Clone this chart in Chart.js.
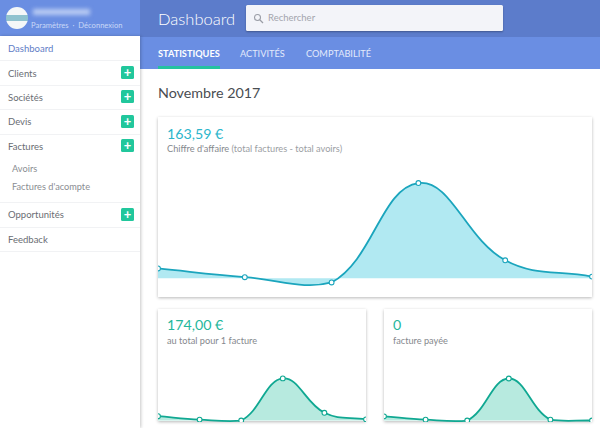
<!DOCTYPE html>
<html lang="fr">
<head>
<meta charset="utf-8">
<title>Dashboard</title>
<script src="https://cdn.jsdelivr.net/npm/chart.js@4/dist/chart.umd.min.js"></script>
<style>
* { box-sizing: border-box; }
html, body { margin: 0; width: 600px; height: 428px; overflow: hidden; background: #fff; font-family: Lato, sans-serif; }
.abs { position: absolute; white-space: nowrap; }
#topbar { position: absolute; left: 140px; top: 0; width: 460px; height: 37px; background: #5c7ccb; }
#tabs { position: absolute; left: 140px; top: 37px; width: 460px; height: 32px; background: #6a8ee3; }
#sidehead { position: absolute; left: 0; top: 0; width: 140px; height: 36px; background: #6a8ee2; }
#sidebar { position: absolute; left: 0; top: 36px; width: 140px; height: 392px; background: #fff; box-shadow: 1px 0 3px rgba(0,0,0,.22); }
#avatar { position: absolute; left: 6px; top: 7px; width: 22px; height: 22px; border-radius: 50%; background: linear-gradient(#f4f7f8 0 35%, #8fc2cf 35% 65%, #f4f7f8 65%); }
#blurname { position: absolute; left: 33px; top: 9px; width: 57px; height: 6px; background: #b9ccf3; filter: blur(2px); }
.rule { position: absolute; left: 0; width: 140px; height: 1px; background: #f1f2f4; }
.nav { font-size: 9.5px; color: #6a6d73; transform: translateY(-50%); }
.sub { font-size: 9.2px; color: #8a8d92; transform: translateY(-50%); }
.plus { position: absolute; left: 121px; width: 13px; height: 13px; border-radius: 1.5px; background: #21c79c; color: #fff; font-size: 13px; line-height: 12px; text-align: center; font-weight: 700; }
#search { position: absolute; left: 246px; top: 5px; width: 257px; height: 26px; background: #f3f4f9; border-radius: 1.5px; box-shadow: 0 1px 2px rgba(0,0,0,.3); }
.tab { font-size: 9.2px; font-weight: 700; transform: translateY(-50%); }
.card { position: absolute; background: #fff; box-shadow: 0 1px 3px rgba(0,0,0,.28); }
.big { font-size: 14.2px; font-weight: 400; }
.small { font-size: 9.2px; color: #9b9ea3; }
canvas { position: absolute; }
</style>
</head>
<body>
<div id="topbar"></div>
<div id="tabs"></div>
<div id="sidehead"></div>
<div id="avatar"></div>
<div id="blurname"></div>
<div class="abs" style="left:31px;top:20px;font-size:7.6px;color:#c9d8f7">Paramètres &nbsp;·&nbsp; Déconnexion</div>

<div id="sidebar"></div>
<div class="rule" style="top:60px"></div>
<div class="rule" style="top:85px"></div>
<div class="rule" style="top:109px"></div>
<div class="rule" style="top:134px"></div>
<div class="rule" style="top:202px"></div>
<div class="rule" style="top:227px"></div>
<div class="rule" style="top:251px"></div>
<div class="abs nav" style="left:8px;top:48px;color:#5f7dc6">Dashboard</div>
<div class="abs nav" style="left:8px;top:73px">Clients</div>
<div class="abs nav" style="left:8px;top:97px">Sociétés</div>
<div class="abs nav" style="left:8px;top:121px">Devis</div>
<div class="abs nav" style="left:8px;top:146px">Factures</div>
<div class="abs sub" style="left:12px;top:168px">Avoirs</div>
<div class="abs sub" style="left:12px;top:186px">Factures d'acompte</div>
<div class="abs nav" style="left:8px;top:214px">Opportunités</div>
<div class="abs nav" style="left:8px;top:239px">Feedback</div>
<div class="plus" style="top:66px">+</div>
<div class="plus" style="top:90px">+</div>
<div class="plus" style="top:115px">+</div>
<div class="plus" style="top:139px">+</div>
<div class="plus" style="top:208px">+</div>

<div class="abs" style="left:158px;top:9px;font-size:16.5px;font-weight:300;color:#fff">Dashboard</div>
<div id="search"></div>
<svg class="abs" style="left:253px;top:13px" width="11" height="11" viewBox="0 0 11 11"><circle cx="4.5" cy="4.5" r="3" fill="none" stroke="#9a9da6" stroke-width="1.1"/><line x1="7" y1="7" x2="10" y2="10" stroke="#9a9da6" stroke-width="1.2"/></svg>
<div class="abs" style="left:268px;top:12px;font-size:9.5px;color:#a3a5ad">Rechercher</div>
<div class="abs tab" style="left:158px;top:53px;color:#fff">STATISTIQUES</div>
<div class="abs tab" style="left:240px;top:53px;color:#e3eafb;font-weight:400">ACTIVITÉS</div>
<div class="abs tab" style="left:306px;top:53px;color:#e3eafb;font-weight:400">COMPTABILITÉ</div>
<div class="abs" style="left:158px;top:66px;width:62px;height:3px;background:#25c2a0"></div>
<div class="abs" style="left:158px;top:84px;font-size:14.3px;color:#4a4d52">Novembre 2017</div>

<div class="card" style="left:158px;top:117px;width:434px;height:180px"></div>
<div class="abs big" style="left:167px;top:125px;color:#2cb6cb">163,59 €</div>
<div class="abs small" style="left:167px;top:143px"><span style="color:#85888d">Chiffre d'affaire</span> (total factures - total avoirs)</div>
<canvas id="chartMain" style="left:158px;top:170px;width:434px;height:120px"></canvas>

<div class="card" style="left:158px;top:309px;width:208px;height:112px"></div>
<div class="abs big" style="left:167px;top:316px;color:#25b79c">174,00 €</div>
<div class="abs small" style="left:167px;top:335px;color:#85888d">au total pour 1 facture</div>
<canvas id="chartTotal" style="left:158px;top:360px;width:208px;height:62px"></canvas>

<div class="card" style="left:384px;top:309px;width:208px;height:112px"></div>
<div class="abs big" style="left:393px;top:316px;color:#25b79c">0</div>
<div class="abs small" style="left:393px;top:335px;color:#85888d">facture payée</div>
<canvas id="chartPaid" style="left:384px;top:360px;width:208px;height:62px"></canvas>

<script>
// Six buckets on each sparkline, no labels shown in the picture
const categories = ['1', '2', '3', '4', '5', '6'];
const revenueValues = [17, 2, -7, 163.59, 31, 3];
const totalValues = [18, 4, 0, 174, 32, 5];
const paidValues = [0.1, 0.02, 0, 1, 0.02, 0];

function sparkline(id, values, yMin, yMax, lineColor, fillColor) {
    const ctx = document.getElementById(id);
    ctx.width = ctx.offsetWidth;
    ctx.height = ctx.offsetHeight;
    return new Chart(ctx, {
        type: 'line',
        data: {
            labels: categories,
            datasets: [{
                data: values,
                borderColor: lineColor,
                borderWidth: 1.8,
                backgroundColor: fillColor,
                fill: 'origin',
                tension: 0.4,
                pointRadius: 2.4,
                pointBorderWidth: 1.1,
                pointBackgroundColor: '#fff',
                pointBorderColor: lineColor
            }]
        },
        options: {
            responsive: false,
            animation: false,
            layout: { autoPadding: false, padding: 0 },
            plugins: { legend: { display: false }, tooltip: { enabled: false } },
            scales: {
                x: { display: false, offset: false },
                y: { display: false, min: yMin, max: yMax }
            }
        }
    });
}

sparkline('chartMain', revenueValues, -20, 186, '#1ba5bd', '#b1e9f2');
sparkline('chartTotal', totalValues, -6, 250, '#10a892', '#b7eadf');
sparkline('chartPaid', paidValues, -0.035, 1.44, '#10a892', '#b7eadf');
</script>
</body>
</html>
